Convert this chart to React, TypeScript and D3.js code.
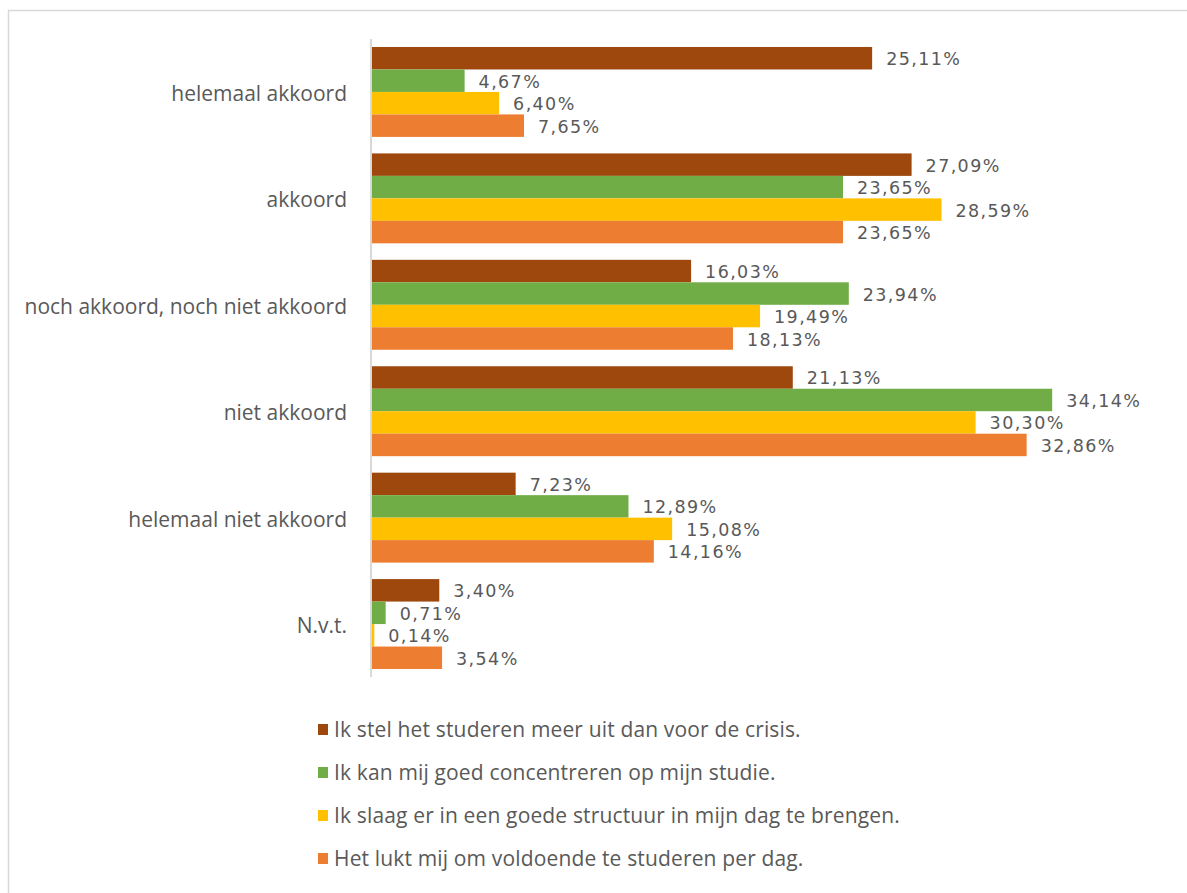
import { useEffect, useRef } from "react";
import * as d3 from "d3";

const categories = [
  "helemaal akkoord",
  "akkoord",
  "noch akkoord, noch niet akkoord",
  "niet akkoord",
  "helemaal niet akkoord",
  "N.v.t.",
];

const seriesNames = [
  "Ik stel het studeren meer uit dan voor de crisis.",
  "Ik kan mij goed concentreren op mijn studie.",
  "Ik slaag er in een goede structuur in mijn dag te brengen.",
  "Het lukt mij om voldoende te studeren per dag.",
];

const seriesColors = ["#9E480E", "#70AD47", "#FFC000", "#ED7D31"];

// values per series, in category order (percent)
const uitstellen = [25.11, 27.09, 16.03, 21.13, 7.23, 3.4];
const concentreren = [4.67, 23.65, 23.94, 34.14, 12.89, 0.71];
const structuur = [6.4, 28.59, 19.49, 30.3, 15.08, 0.14];
const voldoende = [7.65, 23.65, 18.13, 32.86, 14.16, 3.54];

const seriesValues = [uitstellen, concentreren, structuur, voldoende];

const App = () => {
  const ref = useRef<SVGSVGElement>(null);
  const width = 1187;
  const height = 893;

  useEffect(() => {
    const svg = d3.select(ref.current);
    svg.selectAll("*").remove();

    const labelFont = "'Open Sans', sans-serif";
    const valueFont = "'DejaVu Sans', sans-serif";
    const textColor = "#595959";

    // chart frame (right / bottom edges run off the picture)
    svg
      .append("rect")
      .attr("x", 8.5)
      .attr("y", 10.5)
      .attr("width", 1300)
      .attr("height", 1000)
      .attr("fill", "white")
      .attr("stroke", "#d9d9d9")
      .attr("stroke-width", 1.5);

    const y = d3
      .scaleBand()
      .domain(categories)
      .range([39, 677])
      .paddingInner(0.155)
      .paddingOuter(0.075);

    const ySub = d3
      .scaleBand()
      .domain(seriesNames)
      .range([0, y.bandwidth()]);

    const x = d3.scaleLinear().domain([0, 40]).range([371.5, 1169]);

    const rows = seriesNames.flatMap((s, si) =>
      categories.map((c, ci) => ({
        series: s,
        si,
        cat: c,
        value: seriesValues[si][ci],
      }))
    );

    svg
      .append("g")
      .selectAll("rect")
      .data(rows)
      .join("rect")
      .attr("x", x(0))
      .attr("y", (d) => y(d.cat)! + ySub(d.series)!)
      .attr("width", (d) => x(d.value) - x(0))
      .attr("height", ySub.bandwidth())
      .attr("fill", (d) => seriesColors[d.si]);

    // vertical axis line
    svg
      .append("line")
      .attr("x1", 371)
      .attr("x2", 371)
      .attr("y1", 39)
      .attr("y2", 677)
      .attr("stroke", "#d9d9d9")
      .attr("stroke-width", 2);

    // value labels
    svg
      .append("g")
      .selectAll("text")
      .data(rows)
      .join("text")
      .attr("x", (d) => x(d.value) + 14)
      .attr("y", (d) => y(d.cat)! + ySub(d.series)! + ySub.bandwidth() / 2)
      .attr("dy", "0.4em")
      .attr("font-family", valueFont)
      .attr("font-size", 17.5)
      .attr("letter-spacing", 1.4)
      .attr("fill", textColor)
      .text((d) => d.value.toFixed(2).replace(".", ",") + "%");

    // category labels
    svg
      .append("g")
      .selectAll("text")
      .data(categories)
      .join("text")
      .attr("x", 347)
      .attr("y", (d) => y(d)! + y.bandwidth() / 2)
      .attr("dy", "0.43em")
      .attr("text-anchor", "end")
      .attr("font-family", labelFont)
      .attr("font-size", 21)
      .attr("fill", textColor)
      .text((d) => d);

    // legend
    const legendY = d3
      .scalePoint()
      .domain(seriesNames)
      .range([729, 858]);

    const legend = svg
      .append("g")
      .selectAll("g")
      .data(seriesNames)
      .join("g")
      .attr("transform", (d) => `translate(318, ${legendY(d)})`);

    legend
      .append("rect")
      .attr("x", 0)
      .attr("y", -5)
      .attr("width", 10)
      .attr("height", 11)
      .attr("fill", (d, i) => seriesColors[i]);

    legend
      .append("text")
      .attr("x", 16)
      .attr("dy", "0.38em")
      .attr("font-family", labelFont)
      .attr("font-size", 21)
      .attr("letter-spacing", 0.15)
      .attr("fill", textColor)
      .text((d) => d);
  }, []);

  return (
    <svg
      ref={ref}
      width={width}
      height={height}
      style={{ position: "absolute", left: 0, top: 0, background: "white" }}
    />
  );
};

export default App;
